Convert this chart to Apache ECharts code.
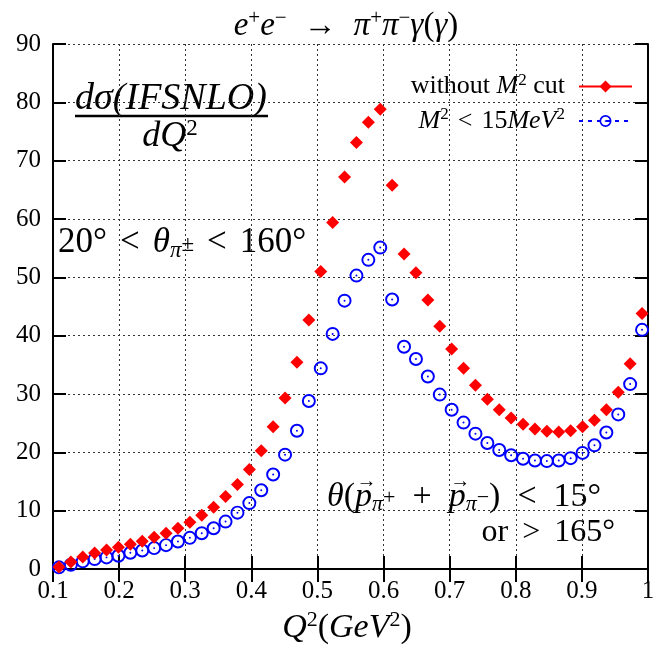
<!DOCTYPE html>
<html>
<head>
<meta charset="utf-8">
<script src="https://cdn.jsdelivr.net/npm/echarts@6/dist/echarts.min.js"></script>
<style>
  html, body { margin: 0; padding: 0; background: #fff; }
  #chart { width: 667px; height: 652px; }
</style>
</head>
<body>
<div id="chart"></div>
<script>
// Q^2 bin centres (GeV^2)
var q2 = [0.109, 0.127, 0.145, 0.163, 0.181, 0.199, 0.217, 0.235, 0.253, 0.271,
          0.289, 0.307, 0.325, 0.343, 0.361, 0.379, 0.397, 0.415, 0.433, 0.451,
          0.469, 0.487, 0.505, 0.523, 0.541, 0.559, 0.577, 0.595, 0.613, 0.631,
          0.649, 0.667, 0.685, 0.703, 0.721, 0.739, 0.757, 0.775, 0.793, 0.811,
          0.829, 0.847, 0.865, 0.883, 0.901, 0.919, 0.937, 0.955, 0.973, 0.991];

// without M^2 cut
var noCut = [0.34, 1.19, 2.05, 2.73, 3.24, 3.75, 4.26, 4.77, 5.45, 6.14,
             6.99, 8.01, 9.2, 10.57, 12.44, 14.49, 17.04, 20.28, 24.37, 29.3,
             35.45, 42.7, 51.0, 59.4, 67.2, 73.1, 76.6, 78.8, 65.8, 54.0,
             50.8, 46.1, 41.6, 37.7, 34.4, 31.5, 29.1, 27.3, 25.9, 24.8,
             24.0, 23.6, 23.5, 23.7, 24.4, 25.5, 27.3, 30.3, 35.2, 43.8];

// M^2 < 15 MeV^2
var m2Cut = [0.28, 0.74, 1.31, 1.70, 1.99, 2.27, 2.78, 3.18, 3.58, 4.09,
             4.72, 5.34, 6.14, 6.99, 8.13, 9.66, 11.3, 13.5, 16.2, 19.6,
             23.7, 28.8, 34.4, 40.3, 46.0, 50.3, 53.0, 55.1, 46.2, 38.1,
             36.0, 33.0, 29.9, 27.3, 25.1, 23.2, 21.6, 20.4, 19.5, 18.9,
             18.6, 18.5, 18.6, 19.0, 19.9, 21.2, 23.4, 26.5, 31.7, 41.0];

var seriesNames = ['without M2 cut', 'M2 < 15MeV2'];
var legendLabels = {
    'without M2 cut': '{n|without }{i|M}{sup|2}{n| cut}{sp| }',
    'M2 < 15MeV2': '{i|M}{sup|2}{sp| }{n|<}{sp| }{n|15}{i|MeV}{sup|2}{sp| }'
};

var FONT = "'Liberation Serif', 'DejaVu Serif', serif";

function pairs(xs, ys) {
    var out = [];
    for (var i = 0; i < xs.length; i++) out.push([xs[i], ys[i]]);
    return out;
}

function mathRich(size, gap) {
    var s = Math.round(size * 0.65);
    return {
        n: { fontFamily: FONT, fontSize: size, color: '#000', verticalAlign: 'middle' },
        i: { fontFamily: FONT, fontSize: size, fontStyle: 'italic', color: '#000', verticalAlign: 'middle' },
        sp: { fontFamily: FONT, fontSize: size, width: Math.round(size * (gap || 0.3)), verticalAlign: 'middle' },
        sup: { fontFamily: FONT, fontSize: s, color: '#000', verticalAlign: 'middle', padding: [0, 0, Math.round(size * 0.45), 0] },
        sub: { fontFamily: FONT, fontSize: s, fontStyle: 'italic', color: '#000', verticalAlign: 'middle', padding: [Math.round(size * 0.45), 0, 0, 0] },
        subsup: { fontFamily: FONT, fontSize: s, color: '#000', verticalAlign: 'middle', padding: [Math.round(size * 0.1), 0, 0, 0] }
    };
}

// text width helper for placing the vector arrows
var measureCtx = document.createElement('canvas').getContext('2d');
function textW(str, size, italic) {
    measureCtx.font = (italic ? 'italic ' : '') + size + 'px ' + FONT;
    return measureCtx.measureText(str).width;
}

// ring with a centre dot
var ringDot = 'path://M0,-10A10,10 0 1,1 0,10A10,10 0 1,1 0,-10Z' +
              'M0,-7.2A7.2,7.2 0 1,0 0,7.2A7.2,7.2 0 1,0 0,-7.2Z' +
              'M0,-1.4A1.4,1.4 0 1,1 0,1.4A1.4,1.4 0 1,1 0,-1.4Z';

var myChart = echarts.init(document.getElementById('chart'), null, { renderer: 'canvas' });

var tickStyle = { show: true, inside: true, length: 13, lineStyle: { color: '#000', width: 2 } };
var lineStyleAxis = { show: true, lineStyle: { color: '#000', width: 2 } };
var gridLine = { show: true, lineStyle: { color: '#333', width: 1, type: [2, 3] } };

// vector-p label: left edge and size
var pLabelX = 327, pLabelY = 497, pSize = 34, pGap = 0.5;
var pS = Math.round(pSize * 0.65), pSp = Math.round(pSize * pGap);
var p1x = pLabelX + textW('θ', pSize, true) + textW('(', pSize, false);
var p2x = p1x + textW('p', pSize, true) + textW('π', pS, true) + textW('+', pS, false) +
          pSp + textW('+', pSize, false) + pSp;
var pw = textW('p', pSize, true);

var option = {
    animation: false,
    backgroundColor: '#fff',
    grid: { left: 53, right: 19, top: 44, bottom: 83 },
    xAxis: [{
        type: 'value', min: 0.1, max: 1, interval: 0.1,
        axisLine: lineStyleAxis, axisTick: tickStyle, splitLine: gridLine,
        axisLabel: { fontFamily: FONT, fontSize: 25, color: '#000', margin: 10 }
    }, {
        type: 'value', position: 'top', min: 0.1, max: 1, interval: 0.1,
        axisLine: lineStyleAxis, axisTick: tickStyle, splitLine: { show: false },
        axisLabel: { show: false }
    }],
    yAxis: [{
        type: 'value', min: 0, max: 90, interval: 10,
        axisLine: lineStyleAxis, axisTick: tickStyle, splitLine: gridLine,
        axisLabel: { fontFamily: FONT, fontSize: 25, color: '#000', margin: 12 }
    }, {
        type: 'value', position: 'right', min: 0, max: 90, interval: 10,
        axisLine: lineStyleAxis, axisTick: tickStyle, splitLine: { show: false },
        axisLabel: { show: false }
    }],
    legend: {
        orient: 'vertical', right: 29, top: 67,
        align: 'right', itemWidth: 53, itemHeight: 15, itemGap: 7,
        selectedMode: false,
        data: seriesNames,
        lineStyle: { opacity: 1 },
        formatter: function (name) { return legendLabels[name]; },
        textStyle: { rich: mathRich(26, 0.35) }
    },
    series: [{
        name: seriesNames[0], type: 'line', data: pairs(q2, noCut),
        symbol: 'diamond', symbolSize: 13, showAllSymbol: true,
        itemStyle: { color: '#ff0000' },
        lineStyle: { color: '#ff0000', width: 4, opacity: 0 },
        z: 3
    }, {
        name: seriesNames[1], type: 'line', data: pairs(q2, m2Cut),
        symbol: ringDot, symbolSize: 14, showAllSymbol: true,
        itemStyle: { color: '#0000ff' },
        lineStyle: { color: '#0000ff', width: 3, type: [4, 5], opacity: 0 },
        z: 2
    }],
    graphic: [
        { type: 'text', x: 346, y: 26, style: {
            text: '{i|e}{sup|+}{i|e}{sup|−}{sp| }{n|→}{sp| }{i|π}{sup|+}{i|π}{sup|−}{i|γ}{n|(}{i|γ}{n|)}',
            align: 'center', verticalAlign: 'middle', rich: mathRich(33, 0.5) } },
        { type: 'text', x: 171, y: 99, style: {
            text: '{i|dσ(IFSNLO)}', align: 'center', verticalAlign: 'middle', rich: mathRich(38) } },
        { type: 'line', shape: { x1: 75, y1: 116, x2: 268, y2: 116 }, style: { stroke: '#000', lineWidth: 2.5 } },
        { type: 'text', x: 170, y: 137, style: {
            text: '{i|dQ}{sup|2}', align: 'center', verticalAlign: 'middle', rich: mathRich(36) } },
        { type: 'text', x: 58, y: 243, style: {
            text: '{n|20°}{sp| }{n|<}{sp| }{i|θ}{sub|π}{subsup|±}{sp| }{n|<}{sp| }{n|160°}',
            align: 'left', verticalAlign: 'middle', rich: mathRich(35, 0.37) } },
        { type: 'text', x: pLabelX, y: pLabelY, style: {
            text: '{i|θ}{n|(}{i|p}{sub|π}{subsup|+}{sp| }{n|+}{sp| }{i|p}{sub|π}{subsup|−}{n|)}{sp| }{n|<}{sp| }{n|15°}',
            align: 'left', verticalAlign: 'middle', rich: mathRich(pSize, pGap) } },
        { type: 'text', x: p1x + pw / 2 + 3, y: pLabelY - 15, style: {
            text: '→', align: 'center', verticalAlign: 'middle', fontFamily: FONT, fontSize: 20, fill: '#000' } },
        { type: 'text', x: p2x + pw / 2 + 3, y: pLabelY - 15, style: {
            text: '→', align: 'center', verticalAlign: 'middle', fontFamily: FONT, fontSize: 20, fill: '#000' } },
        { type: 'text', x: 615, y: 533, style: {
            text: '{n|or}{sp| }{n|>}{sp| }{n|165°}', align: 'right', verticalAlign: 'middle', rich: mathRich(32, 0.45) } },
        { type: 'text', x: 347, y: 628, style: {
            text: '{i|Q}{sup|2}{n|(}{i|GeV}{sup|2}{n|)}', align: 'center', verticalAlign: 'middle', rich: mathRich(34) } }
    ]
};

myChart.setOption(option);
</script>
</body>
</html>
